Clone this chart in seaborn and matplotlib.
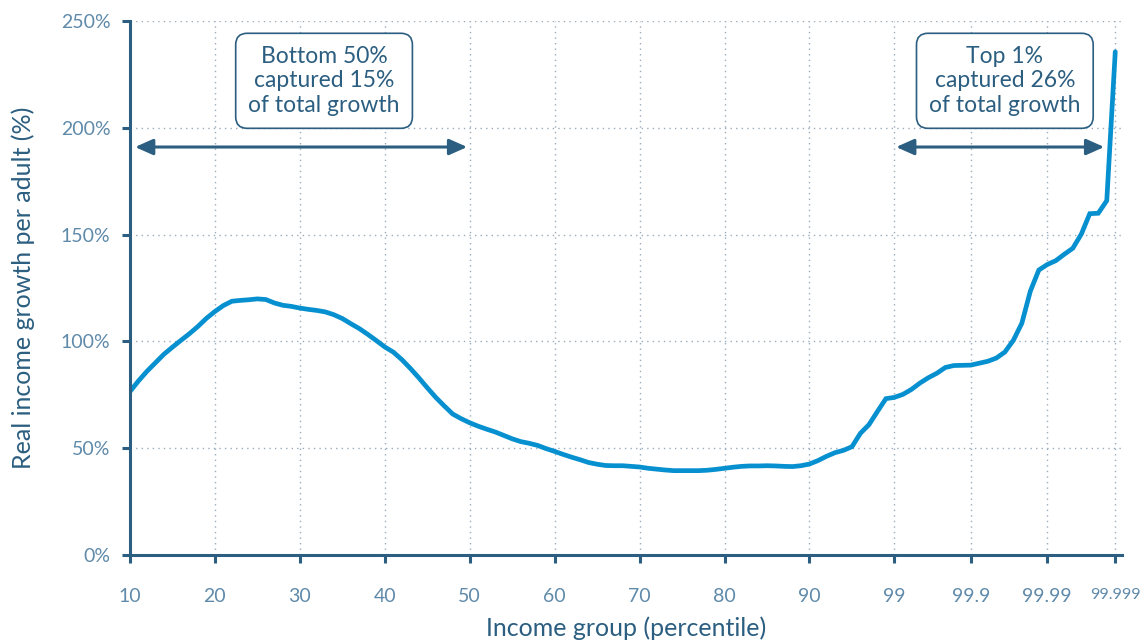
import matplotlib
matplotlib.use("Agg")
import matplotlib.pyplot as plt
import seaborn as sns
import pandas as pd

# ---- data (position index along the income-group axis, growth in %) ----
positions = list(range(10, 127))
growth = [
    76.5, 81.5, 86.0, 90.0, 94.0, 97.3, 100.5, 103.6, 107.0, 110.8,   # 10-19
    114.0, 116.8, 118.8, 119.2, 119.5, 119.9, 119.6, 118.0, 116.9, 116.4,  # 20-29
    115.6, 115.0, 114.5, 113.8, 112.5, 110.7, 108.3, 106.0, 103.3, 100.4,  # 30-39
    97.4, 95.0, 91.5, 87.4, 83.0, 78.3, 73.8, 69.8, 66.0, 63.8,  # 40-49
    61.9, 60.3, 58.9, 57.6, 56.0, 54.4, 53.1, 52.3, 51.3, 49.8,  # 50-59
    48.5, 47.1, 45.8, 44.6, 43.3, 42.5, 41.9, 41.8, 41.8, 41.5,  # 60-69
    41.2, 40.6, 40.2, 39.8, 39.5, 39.5, 39.5, 39.5, 39.7, 40.1,  # 70-79
    40.6, 41.1, 41.5, 41.7, 41.7, 41.8, 41.7, 41.5, 41.4, 41.8,  # 80-89
    42.6, 44.2, 46.2, 47.9, 49.0, 50.7, 57.0, 61.0, 67.2, 73.2,  # 90-99
    73.8, 75.2, 77.5, 80.5, 83.0, 85.1, 87.8, 88.7, 88.8, 88.9,  # 100-109
    89.8, 90.7, 92.2, 95.0, 100.5, 108.5, 123.5, 133.4, 136.0, 137.8,  # 110-119
    140.8, 143.6, 150.2, 159.8, 160.0, 165.9, 235.6,  # 120-126
]
tick_positions = [10, 20, 30, 40, 50, 60, 70, 80, 90, 100, 109, 118, 126]
tick_labels = ["10", "20", "30", "40", "50", "60", "70", "80", "90",
               "99", "99.9", "99.99", "99.999"]
y_ticks = [0, 50, 100, 150, 200, 250]
y_tick_labels = ["0%", "50%", "100%", "150%", "200%", "250%"]

box_texts = ["Bottom 50%\ncaptured 15%\nof total growth",
             "Top 1%\ncaptured 26%\nof total growth"]
box_x = [32.85, 113.0]
box_y = 222.0
arrow_spans = [(10.6, 49.7), (100.2, 124.7)]
arrow_y = 191.0

# ---- style ----
sns.set_theme(style="white")
plt.rcParams["font.family"] = ["Lato", "DejaVu Sans"]

line_color = "#0790cf"
dark = "#2b5e80"
light = "#5f8aaa"
grid_color = "#9aabbb"

df = pd.DataFrame({"pos": positions, "growth": growth})

fig = plt.figure(figsize=(11.41, 6.40), dpi=100)
ax = fig.add_axes([0.1139, 0.1328, 0.9834 - 0.1139, 0.9672 - 0.1328])

sns.lineplot(data=df, x="pos", y="growth", ax=ax, color=line_color,
             linewidth=3.4, solid_joinstyle="miter", solid_capstyle="round")

ax.set_xlim(10, 126.8)
ax.set_ylim(0, 250)
ax.set_xticks(tick_positions)
ax.set_xticklabels(tick_labels)
ax.set_yticks(y_ticks)
ax.set_yticklabels(y_tick_labels)

for lbl in ax.get_xticklabels() + ax.get_yticklabels():
    lbl.set_color(light)
    lbl.set_fontsize(14)
    lbl.set_fontweight("normal")
ax.get_xticklabels()[-1].set_fontsize(11.5)

ax.grid(True, linestyle=(0, (1, 3)), color=grid_color, linewidth=1.0)
ax.set_axisbelow(True)

for side in ["top", "right"]:
    ax.spines[side].set_visible(False)
for side in ["left", "bottom"]:
    ax.spines[side].set_color(dark)
    ax.spines[side].set_linewidth(2.2)

ax.tick_params(axis="both", direction="out", length=6, width=2.2,
               color=dark, bottom=True, left=True)
ax.tick_params(axis="y", pad=8)
ax.tick_params(axis="x", pad=18)

ax.set_xlabel("Income group (percentile)", color=dark, fontsize=18, labelpad=8)
ax.set_ylabel("Real income growth per adult (%)", color=dark, fontsize=18,
              labelpad=19)

for txt, bx in zip(box_texts, box_x):
    ax.text(bx, box_y, txt, ha="center", va="center", color=dark,
            fontsize=16.5, linespacing=1.2,
            bbox=dict(boxstyle="round,pad=0.55,rounding_size=0.5",
                      facecolor="white", edgecolor=dark, linewidth=1.2))

for x0, x1 in arrow_spans:
    ax.annotate("", xy=(x1, arrow_y), xytext=(x0, arrow_y),
                arrowprops=dict(arrowstyle="<|-|>,head_length=0.9,head_width=0.4",
                                color=dark, linewidth=2.2,
                                shrinkA=0, shrinkB=0))

fig.savefig("out.png", dpi=100)
